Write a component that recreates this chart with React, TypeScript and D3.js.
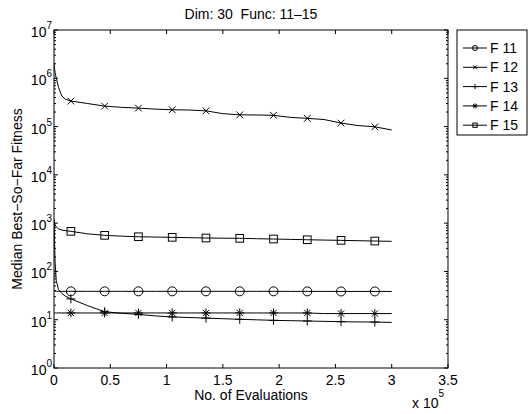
import React from "react";
import * as d3 from "d3";

// evaluations (x 1e5)
const evals = [
  0, 0.005, 0.01, 0.02, 0.04, 0.07, 0.1, 0.15, 0.3, 0.45, 0.6, 0.75, 0.9, 1.05,
  1.2, 1.35, 1.5, 1.65, 1.8, 1.95, 2.1, 2.25, 2.4, 2.55, 2.7, 2.85, 3.0,
];
const markerEvals = [0.15, 0.45, 0.75, 1.05, 1.35, 1.65, 1.95, 2.25, 2.55, 2.85];

const f11 = [
  42, 40, 39, 38.8, 38.7, 38.7, 38.7, 38.7, 38.7, 38.7, 38.7, 38.7, 38.7, 38.7,
  38.7, 38.7, 38.7, 38.7, 38.7, 38.7, 38.6, 38.6, 38.6, 38.5, 38.5, 38.5, 38.5,
];
const f12 = [
  2.0e6, 1.6e6, 1.3e6, 1.0e6, 6.5e5, 4.3e5, 3.7e5, 3.37e5, 3.0e5, 2.65e5, 2.5e5,
  2.41e5, 2.3e5, 2.23e5, 2.2e5, 2.12e5, 1.85e5, 1.75e5, 1.74e5, 1.71e5, 1.55e5,
  1.48e5, 1.4e5, 1.18e5, 1.05e5, 9.9e4, 8.5e4,
];
const f13 = [
  1200, 400, 150, 65, 42, 35, 31, 27, 19.5, 14.6, 13.6, 12.9, 12.0, 11.4, 11.1,
  10.8, 10.5, 10.2, 9.95, 9.7, 9.55, 9.4, 9.25, 9.1, 9.0, 8.95, 8.8,
];
const f14 = [
  14.0, 13.9, 13.8, 13.8, 13.8, 13.8, 13.8, 13.8, 13.8, 13.8, 13.8, 13.8, 13.8,
  13.8, 13.8, 13.8, 13.8, 13.8, 13.8, 13.8, 13.8, 13.8, 13.4, 13.4, 13.4, 13.4,
  13.4,
];
const f15 = [
  1130, 1000, 920, 830, 760, 720, 700, 676, 600, 559, 538, 523, 515, 508, 500,
  492, 488, 485, 476, 469, 461, 453, 446, 440, 433, 426, 420,
];

const seriesNames = ["F 11", "F 12", "F 13", "F 14", "F 15"];
const seriesValues = [f11, f12, f13, f14, f15];
const seriesMarkers = ["circle", "x", "plus", "star", "square"];

const xTicks = [0, 0.5, 1, 1.5, 2, 2.5, 3, 3.5];
const yExponents = [0, 1, 2, 3, 4, 5, 6, 7];

const font = "'Liberation Sans', Arial, Helvetica, sans-serif";

const Marker = ({ type, x, y, s }) => {
  const common = { stroke: "black", strokeWidth: 1, fill: "none" };
  if (type === "circle") return <circle cx={x} cy={y} r={s} {...common} />;
  if (type === "square")
    return <rect x={x - s * 0.85} y={y - s * 0.85} width={s * 1.7} height={s * 1.7} {...common} />;
  if (type === "x") {
    const d = s * 0.75;
    return <path d={`M${x - d},${y - d}L${x + d},${y + d}M${x - d},${y + d}L${x + d},${y - d}`} {...common} />;
  }
  if (type === "plus")
    return <path d={`M${x - s},${y}L${x + s},${y}M${x},${y - s}L${x},${y + s}`} {...common} />;
  const d = s * 0.7;
  return (
    <path
      d={`M${x - s},${y}L${x + s},${y}M${x},${y - s}L${x},${y + s}M${x - d},${y - d}L${x + d},${y + d}M${x - d},${y + d}L${x + d},${y - d}`}
      {...common}
    />
  );
};

const App = () => {
  const width = 528;
  const height = 414;
  const margin = { left: 54, right: 80, top: 30, bottom: 46 };
  const x = d3.scaleLinear().domain([0, 3.5]).range([margin.left, width - margin.right]);
  const y = d3.scaleLog().domain([1, 1e7]).range([height - margin.bottom, margin.top]);
  const [x0, x1] = x.range();
  const [y0, y1] = y.range();

  const line = d3
    .line<number>()
    .x((_, i) => x(evals[i]))
    .y((d) => y(d));

  const minor: number[] = [];
  yExponents.slice(0, -1).forEach((e) => {
    for (let k = 2; k <= 9; k++) minor.push(k * Math.pow(10, e));
  });

  return (
    <svg
      width={width}
      height={height}
      style={{ position: "absolute", left: 0, top: 0, background: "white" }}
      fontFamily={font}
    >
      <rect width={width} height={height} fill="white" />
      <defs>
        <clipPath id="plot">
          <rect x={x0} y={y1} width={x1 - x0} height={y0 - y1} />
        </clipPath>
      </defs>

      {/* series */}
      <g clipPath="url(#plot)">
        {seriesValues.map((vals, si) => (
          <path key={si} d={line(vals)} fill="none" stroke="black" strokeWidth={1} />
        ))}
      </g>
      {seriesValues.map((vals, si) =>
        markerEvals.map((m) => {
          const i = evals.indexOf(m);
          return <Marker key={`${si}-${m}`} type={seriesMarkers[si]} x={x(m)} y={y(vals[i])} s={4.5} />;
        })
      )}

      {/* axes box and ticks */}
      <rect x={x0} y={y1} width={x1 - x0} height={y0 - y1} fill="none" stroke="black" strokeWidth={1} />
      {xTicks.map((t) => (
        <g key={t}>
          <line x1={x(t)} x2={x(t)} y1={y0} y2={y0 - 4} stroke="black" />
          <line x1={x(t)} x2={x(t)} y1={y1} y2={y1 + 4} stroke="black" />
          <text x={x(t)} y={y0 + 17} textAnchor="middle" fontSize={14}>
            {t}
          </text>
        </g>
      ))}
      {yExponents.map((e) => (
        <g key={e}>
          <line x1={x0} x2={x0 + 4} y1={y(Math.pow(10, e))} y2={y(Math.pow(10, e))} stroke="black" />
          <line x1={x1} x2={x1 - 4} y1={y(Math.pow(10, e))} y2={y(Math.pow(10, e))} stroke="black" />
          <text x={x0 - 2} y={y(Math.pow(10, e)) + 7} textAnchor="end" fontSize={14}>
            10
            <tspan dy={-8} fontSize={10}>
              {e}
            </tspan>
          </text>
        </g>
      ))}
      {minor.map((v) => (
        <g key={v}>
          <line x1={x0} x2={x0 + 2} y1={y(v)} y2={y(v)} stroke="black" />
          <line x1={x1} x2={x1 - 2} y1={y(v)} y2={y(v)} stroke="black" />
        </g>
      ))}

      {/* labels */}
      <text x={(x0 + x1) / 2} y={19} textAnchor="middle" fontSize={14}>
        Dim: 30{"\u00a0\u00a0"}Func: 11{"\u2013"}15
      </text>
      <text x={(x0 + x1) / 2} y={400} textAnchor="middle" fontSize={14}>
        No. of Evaluations
      </text>
      <text x={412} y={408} fontSize={14}>
        x 10
        <tspan dy={-11} fontSize={10}>
          5
        </tspan>
      </text>
      <text
        transform={`translate(22,${(y0 + y1) / 2}) rotate(-90)`}
        textAnchor="middle"
        fontSize={14}
      >
        Median Best{"\u2212"}So{"\u2212"}Far Fitness
      </text>

      {/* legend */}
      <rect x={457} y={30} width={70} height={105} fill="white" stroke="black" strokeWidth={1} />
      {seriesNames.map((name, i) => {
        const ly = 48 + i * 19.3;
        return (
          <g key={name}>
            <line x1={463} x2={487} y1={ly} y2={ly} stroke="black" />
            <Marker type={seriesMarkers[i]} x={475} y={ly} s={2.5} />
            <text x={490} y={ly + 5} fontSize={14}>
              {name}
            </text>
          </g>
        );
      })}
    </svg>
  );
};

export default App;
